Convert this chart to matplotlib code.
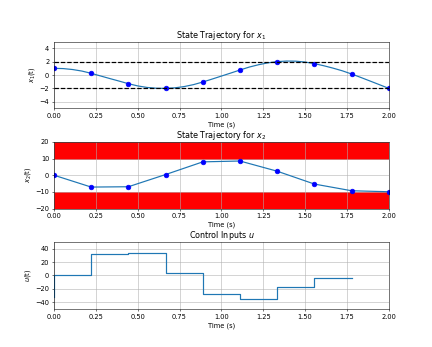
import numpy as np
import matplotlib
matplotlib.use('Agg')
import matplotlib.pyplot as plt

# collocation nodes
t_nodes = [0.0, 0.2222, 0.4444, 0.6667, 0.8889, 1.1111, 1.3333, 1.5556, 1.7778, 2.0]
x1_nodes = [1.0, 0.25, -1.3, -2.0, -1.05, 0.75, 2.0, 1.7, 0.15, -2.0]
x2_nodes = [0.0, -7.1, -6.9, 0.4, 8.0, 8.5, 2.4, -5.3, -9.3, -9.9]

# smooth x1 trajectory
t_fine = np.linspace(0, 2, 37)
x1_fine = [1.0, 0.96, 0.82, 0.59, 0.25, -0.14, -0.53, -0.91, -1.3, -1.63, -1.86, -1.98,
           -2.0, -1.92, -1.73, -1.44, -1.05, -0.61, -0.16, 0.29, 0.75, 1.19, 1.54, 1.82,
           2.0, 2.09, 2.07, 1.94, 1.7, 1.39, 1.03, 0.63, 0.15, -0.37, -0.91, -1.45, -2.0]

# control inputs (step, 'pre')
u_vals = [-32.0, 0.5, 32.5, 33.5, 3.0, -27.5, -35.0, -18.0, -3.5]

x1_bound = 2
x2_bound = 10

fig = plt.figure(figsize=(9, 7.23))

ax1 = plt.subplot(3, 1, 1)
ax1.plot(t_fine, x1_fine, lw=1.8)
ax1.plot(t_nodes, x1_nodes, 'bo', ms=7)
ax1.axhline(x1_bound, color='k', linestyle='--', lw=1.8)
ax1.axhline(-x1_bound, color='k', linestyle='--', lw=1.8)
ax1.set_xlim(0, 2)
ax1.set_ylim(-5, 5)
ax1.set_title('State Trajectory for $x_1$')
ax1.set_xlabel('Time (s)')
ax1.set_ylabel('$x_1$(t)')
ax1.grid(True)

ax2 = plt.subplot(3, 1, 2)
ax2.axhspan(x2_bound, 20, color='red')
ax2.axhspan(-20, -x2_bound, color='red')
ax2.plot(t_nodes, x2_nodes, lw=1.8)
ax2.plot(t_nodes, x2_nodes, 'bo', ms=7)
ax2.set_xlim(0, 2)
ax2.set_ylim(-20, 20)
ax2.set_title('State Trajectory for $x_2$')
ax2.set_xlabel('Time (s)')
ax2.set_ylabel('$x_2$(t)')
ax2.grid(True)

ax3 = plt.subplot(3, 1, 3)
ax3.step(t_nodes[:-1], u_vals, lw=1.8)
ax3.set_xlim(0, 2)
ax3.set_ylim(-50, 50)
ax3.set_title('Control Inputs $u$')
ax3.set_xlabel('Time (s)')
ax3.set_ylabel('$u$(t)')
ax3.grid(True)

plt.subplots_adjust(hspace=0.5)
plt.savefig('out.png', dpi=48)
